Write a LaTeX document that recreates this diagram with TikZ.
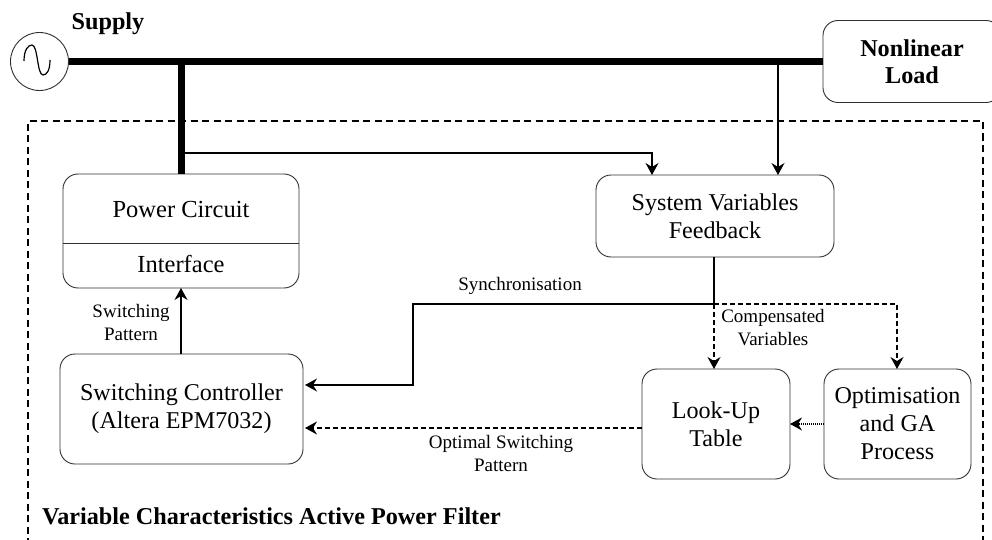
\documentclass[tikz,border=0pt]{standalone}
\usepackage{fontspec}
\setmainfont{Liberation Serif}
\usepackage{tikz}
\usetikzlibrary{arrows.meta}
\tikzset{
	blockbox/.style={draw=custcol_30_30_30, line width=0.9pt, rounded corners=15pt, inner sep=0, outer sep=0, align=center, font=\fontsize{24.1pt}{28pt}\selectfont},
	smalllabel/.style={inner sep=0, outer sep=0, align=center, font=\fontsize{19pt}{23pt}\selectfont},
	boldlabel/.style={inner sep=0, outer sep=0, align=center, font=\fontsize{24.2pt}{28pt}\selectfont\bfseries},
	busline/.style={line width=7pt, line cap=butt},
	sigtip/.style={-{Stealth[length=12pt,width=13pt,inset=4pt]}},
	sigline/.style={line width=1.1pt, sigtip},
	plainline/.style={line width=1.1pt},
	dashline/.style={line width=1.1pt, dash pattern=on 5pt off 3pt},
	dashtip/.style={dashline, sigtip},
	dotline/.style={line width=1.1pt, dash pattern=on 1pt off 1pt, sigtip},
	filterbox/.style={line width=1.6pt, dash pattern=on 7pt off 4.5pt, line cap=butt}
}
\begin{document}
\begin{tikzpicture}[x=1pt,y=-1pt]
	\definecolor{custcol_30_30_30}{RGB}{48, 48, 48}
	\useasboundingbox (0,0) rectangle (992,540);
	\clip (0,0) rectangle (992,540);
	\node[draw=custcol_30_30_30, line width=0.9pt, circle, minimum size=58pt, inner sep=0, outer sep=0] (source) at (39.5,61.5) {};
	\draw [line width=1.2pt] (24,61) .. controls (24,50) and (28,45) .. (32,45) .. controls (38,45) and (37,75) .. (43,75) .. controls (47,75) and (50,70) .. (50,60);
	\node[boldlabel, anchor=center] (supplylabel) at (108,24) {Supply};
	\node[blockbox, font=\fontsize{24.2pt}{27pt}\selectfont\bfseries, minimum width=178pt, minimum height=82pt] (load) at (912,61.5) {Nonlinear\\Load};
	\node[blockbox, minimum width=236pt, minimum height=114pt] (power) at (181,231) {};
	\node[inner sep=0, font=\fontsize{24.5pt}{28pt}\selectfont] (powerlabel) at (181,210) {Power Circuit};
	\node[inner sep=0, font=\fontsize{24.5pt}{28pt}\selectfont] (interfacelabel) at (181,264) {Interface};
	\draw [line width=0.9pt, custcol_30_30_30] (power.west |- 0,243) -- (power.east |- 0,243);
	\node[blockbox, minimum width=238pt, minimum height=82pt] (feedback) at (715,216) {System Variables\\Feedback};
	\node[blockbox, minimum width=243pt, minimum height=110pt] (controller) at (181.5,409) {Switching Controller\\(Altera EPM7032)};
	\node[blockbox, minimum width=148pt, minimum height=110pt] (lookup) at (716,424) {Look-Up\\Table};
	\node[blockbox, minimum width=147pt, minimum height=110pt] (optimise) at (897.5,424) {Optimisation\\and GA\\Process};
	\coordinate (fbleft) at (652,175);
	\coordinate (fbright) at (778,175);
	\coordinate (split) at (714,304);
	\coordinate (synccorner) at (413,304);
	\coordinate (syncin) at (305,385);
	\coordinate (optin) at (305,428);
	\coordinate (lookupin) at (714,369);
	\coordinate (optimisein) at (897,369);
	\coordinate (ctrlout) at (181,354);
	\coordinate (powerin) at (181,288);
	\coordinate (powertap) at (181,153);
	\draw [busline] (source.east) -- (load.west);
	\draw [busline] (power.north) -- (power.north |- source.east);
	\draw [sigline] (powertap) -| (fbleft);
	\draw [sigline] (fbright |- source.east) -- (fbright);
	\draw [plainline] (feedback.south -| split) -- (split);
	\draw [sigline] (split) -- (synccorner) |- (syncin);
	\draw [dashtip] (split) -- (lookupin);
	\draw [dashtip] (split) -| (optimisein);
	\draw [dashtip] (lookup.west |- optin) -- (optin);
	\draw [dotline] (optimise.west |- 0,424) -- (lookup.east |- 0,424);
	\draw [sigline] (ctrlout) -- (powerin);
	\node[smalllabel] (patternlabel) at (131,322) {Switching\\Pattern};
	\node[smalllabel] (synclabel) at (520,286) {Synchronisation};
	\node[smalllabel] (compensatedlabel) at (773,328) {Compensated\\Variables};
	\node[smalllabel] (optimallabel) at (501,453) {Optimal Switching\\Pattern};
	\draw [filterbox] (28,545) -- (28,121) -- (983,121) -- (983,545);
	\node[boldlabel, anchor=west] (filterlabel) at (42,516) {Variable Characteristics Active Power Filter};
\end{tikzpicture}
\end{document}
